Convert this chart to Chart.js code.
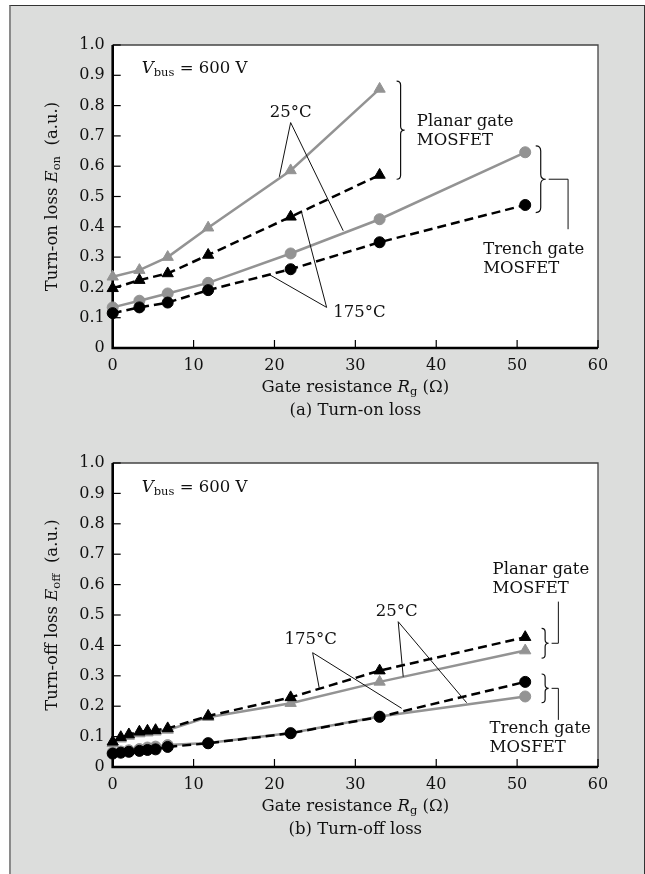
<!DOCTYPE html>
<html>
<head>
<meta charset="utf-8">
<script src="https://cdn.jsdelivr.net/npm/chart.js@4.4.1/dist/chart.umd.min.js"></script>
<style>
  html, body { margin: 0; padding: 0; background: #fff; }
  #panel {
    position: absolute; left: 9px; top: 5px; width: 636px; height: 880px;
    background: #dcdddc; box-sizing: border-box;
    border-left: 2px solid #8a8a8a; border-top: 1px solid #333; border-right: 1px solid #333;
  }
  canvas { position: absolute; left: 0; }
  #chartOn { top: 0; }
  #chartOff { top: 430px; }
</style>
</head>
<body>
<div id="panel"></div>
<canvas id="chartOn" width="645" height="430"></canvas>
<canvas id="chartOff" width="645" height="444"></canvas>
<script>
// (a) turn-on loss, gate resistance in ohm
const rgOnPlanar = [0, 3.3, 6.8, 11.8, 22, 33];
const rgOnTrench = [0, 3.3, 6.8, 11.8, 22, 33, 51];
const onPlanar25 = [0.235, 0.257, 0.300, 0.397, 0.586, 0.855];
const onPlanar175 = [0.197, 0.224, 0.246, 0.307, 0.433, 0.571];
const onTrench25 = [0.134, 0.156, 0.180, 0.215, 0.312, 0.425, 0.646];
const onTrench175 = [0.115, 0.134, 0.150, 0.191, 0.260, 0.349, 0.472];

// (b) turn-off loss
const rgOff = [0, 1, 2, 3.3, 4.3, 5.3, 6.8, 11.8, 22, 33, 51];
const offPlanar25 = [0.078, 0.093, 0.102, 0.110, 0.113, 0.116, 0.122, 0.164, 0.210, 0.280, 0.383];
const offPlanar175 = [0.083, 0.098, 0.107, 0.116, 0.119, 0.121, 0.127, 0.168, 0.229, 0.317, 0.427];
const offTrench25 = [0.048, 0.051, 0.055, 0.059, 0.064, 0.067, 0.072, 0.079, 0.112, 0.166, 0.232];
const offTrench175 = [0.044, 0.047, 0.050, 0.053, 0.056, 0.058, 0.066, 0.078, 0.111, 0.165, 0.280];

const yTickLabels = ['0', '0.1', '0.2', '0.3', '0.4', '0.5', '0.6', '0.7', '0.8', '0.9', '1.0'];
const xTickLabels = ['0', '10', '20', '30', '40', '50', '60'];

const SERIF = '"DejaVu Serif", "Liberation Serif", serif';
const GREY = '#939393';

function series(xs, ys, grey, shape) {
  return {
    data: xs.map((x, i) => ({ x: x, y: ys[i] })),
    showLine: true,
    clip: false,
    borderColor: grey ? GREY : '#000',
    backgroundColor: grey ? GREY : '#000',
    borderWidth: 2.5,
    borderDash: grey ? [] : [9, 5],
    pointStyle: shape,
    pointRadius: shape === 'triangle' ? 6.5 : 5.5,
    pointBorderWidth: 1,
  };
}

function fontFor(style) {
  if (style === 'i') return 'italic 16.5px ' + SERIF;
  if (style === 'sub') return '11.5px ' + SERIF;
  return '16.5px ' + SERIF;
}

// draws text made of pieces: plain, italic ('i') and subscript ('sub')
function richText(ctx, parts, x, y, align) {
  let w = 0;
  parts.forEach(p => { ctx.font = fontFor(p[1]); w += ctx.measureText(p[0]).width; });
  let cx = align === 'center' ? x - w / 2 : x;
  ctx.textAlign = 'left';
  ctx.textBaseline = 'middle';
  parts.forEach(p => {
    ctx.font = fontFor(p[1]);
    ctx.fillText(p[0], cx, p[1] === 'sub' ? y + 4 : y);
    cx += ctx.measureText(p[0]).width;
  });
}

function brace(ctx, x0, w, yTop, yBot) {
  const xm = x0 + w / 2, ym = (yTop + yBot) / 2, r = w / 2;
  ctx.beginPath();
  ctx.moveTo(x0, yTop);
  ctx.quadraticCurveTo(xm, yTop, xm, yTop + r);
  ctx.lineTo(xm, ym - r);
  ctx.quadraticCurveTo(xm, ym, x0 + w, ym);
  ctx.quadraticCurveTo(xm, ym, xm, ym + r);
  ctx.lineTo(xm, yBot - r);
  ctx.quadraticCurveTo(xm, yBot, x0, yBot);
  ctx.stroke();
}

const framePlugin = {
  id: 'frame',
  beforeDraw(chart) {
    const a = chart.chartArea, ctx = chart.ctx;
    ctx.save();
    ctx.fillStyle = '#fff';
    ctx.fillRect(a.left, a.top, a.right - a.left, a.bottom - a.top);
    ctx.restore();
  },
  beforeDatasetsDraw(chart) {
    const a = chart.chartArea, ctx = chart.ctx;
    const sx = chart.scales.x, sy = chart.scales.y;
    ctx.save();
    ctx.strokeStyle = '#444';
    ctx.lineWidth = 1.3;
    ctx.beginPath();
    ctx.moveTo(a.left, a.top); ctx.lineTo(a.right, a.top); ctx.lineTo(a.right, a.bottom);
    ctx.stroke();
    ctx.strokeStyle = '#000';
    ctx.lineWidth = 1.2;
    sy.ticks.forEach(t => {
      const y = sy.getPixelForValue(t.value);
      ctx.beginPath(); ctx.moveTo(a.left, y); ctx.lineTo(a.left + 8, y); ctx.stroke();
    });
    sx.ticks.forEach(t => {
      const x = sx.getPixelForValue(t.value);
      ctx.beginPath(); ctx.moveTo(x, a.bottom); ctx.lineTo(x, a.bottom - 8); ctx.stroke();
    });
    ctx.lineWidth = 2.6;
    ctx.beginPath();
    ctx.moveTo(a.left, a.top); ctx.lineTo(a.left, a.bottom); ctx.lineTo(a.right, a.bottom);
    ctx.stroke();
    ctx.restore();
  },
  afterDraw(chart) {
    const n = chart.options.plugins.frame;
    const a = chart.chartArea, ctx = chart.ctx;
    const sx = chart.scales.x, sy = chart.scales.y;
    const px = p => [sx.getPixelForValue(p[0]), sy.getPixelForValue(p[1])];
    ctx.save();
    ctx.fillStyle = '#111';
    ctx.strokeStyle = '#111';

    // axis titles and caption
    ctx.save();
    ctx.translate(52.7, (a.top + a.bottom) / 2);
    ctx.rotate(-Math.PI / 2);
    richText(ctx, n.yTitle, 0, 0, 'center');
    ctx.restore();
    const cx = (a.left + a.right) / 2;
    richText(ctx, [['Gate resistance ', ''], ['R', 'i'], ['g', 'sub'], [' (\u03a9)', '']], cx, a.bottom + 40, 'center');
    richText(ctx, [[n.caption, '']], cx, a.bottom + 63, 'center');

    // V_bus
    const v = px(n.vbus);
    richText(ctx, [['V', 'i'], ['bus', 'sub'], [' = 600 V', '']], v[0], v[1], 'left');

    // temperature callouts
    ctx.lineWidth = 1;
    n.temps.forEach(t => {
      const c = px(t.at), ap = px(t.apex);
      richText(ctx, [[t.text, '']], c[0], c[1], 'center');
      t.to.forEach(e => {
        const p = px(e);
        ctx.beginPath(); ctx.moveTo(ap[0], ap[1]); ctx.lineTo(p[0], p[1]); ctx.stroke();
      });
    });

    // braces and their leaders
    ctx.lineWidth = 1.2;
    n.braces.forEach(b => {
      const x0 = sx.getPixelForValue(b.x);
      const yT = sy.getPixelForValue(b.top), yB = sy.getPixelForValue(b.bot);
      brace(ctx, x0, b.w, yT, yB);
      if (b.leader) {
        const ym = (yT + yB) / 2;
        ctx.lineWidth = 1;
        ctx.beginPath();
        ctx.moveTo(x0 + b.w + 3, ym);
        b.leader.forEach(l => {
          const p = px([l[0], l[1] === null ? sy.getValueForPixel(ym) : l[1]]);
          ctx.lineTo(p[0], p[1]);
        });
        ctx.stroke();
        ctx.lineWidth = 1.2;
      }
    });

    // device labels
    n.labels.forEach(l => {
      const p = px(l.at);
      l.lines.forEach((s, i) => richText(ctx, [[s, '']], p[0], p[1] + i * 19, 'left'));
    });
    ctx.restore();
  }
};

function makeChart(id, datasets, plotTop, plotBottom, notes) {
  const el = document.getElementById(id);
  return new Chart(el, {
    type: 'scatter',
    data: { datasets: datasets },
    options: {
      responsive: false,
      animation: false,
      layout: { padding: { top: plotTop, left: 0, right: 47, bottom: 0 } },
      plugins: {
        legend: { display: false },
        tooltip: { enabled: false },
        frame: notes,
      },
      scales: {
        x: {
          type: 'linear', min: 0, max: 60,
          grid: { display: false, drawTicks: false },
          border: { display: false },
          ticks: {
            stepSize: 10, padding: 8, color: '#111', maxRotation: 0,
            font: { family: SERIF, size: 16 },
            callback: (v, i) => xTickLabels[i],
          },
          afterFit: s => { s.height = el.height - plotBottom; },
        },
        y: {
          type: 'linear', min: 0, max: 1,
          grid: { display: false, drawTicks: false },
          border: { display: false },
          ticks: {
            stepSize: 0.1, padding: 8, color: '#111',
            font: { family: SERIF, size: 16 },
            callback: (v, i) => yTickLabels[i],
          },
          afterFit: s => { s.width = 112.7; },
        },
      },
    },
    plugins: [framePlugin],
  });
}

makeChart('chartOn', [
  series(rgOnPlanar, onPlanar175, false, 'triangle'),
  series(rgOnTrench, onTrench175, false, 'circle'),
  series(rgOnPlanar, onPlanar25, true, 'triangle'),
  series(rgOnTrench, onTrench25, true, 'circle'),
], 45, 348, {
  yTitle: [['Turn-on loss ', ''], ['E', 'i'], ['on', 'sub'], ['  (a.u.)', '']],
  caption: '(a) Turn-on loss',
  vbus: [3.6, 0.921],
  temps: [
    { text: '25\u00b0C', at: [22.0, 0.777], apex: [22.0, 0.744], to: [[20.6, 0.565], [28.5, 0.387]] },
    { text: '175\u00b0C', at: [30.5, 0.115], apex: [26.45, 0.134], to: [[19.45, 0.241], [23.36, 0.447]] },
  ],
  braces: [
    { x: 35.1, w: 8, top: 0.881, bot: 0.557, leader: null },
    { x: 52.3, w: 10, top: 0.667, bot: 0.447, leader: [[56.3, null], [56.3, 0.392]] },
  ],
  labels: [
    { at: [37.6, 0.747], lines: ['Planar gate', 'MOSFET'] },
    { at: [45.8, 0.323], lines: ['Trench gate', 'MOSFET'] },
  ],
});

makeChart('chartOff', [
  series(rgOff, offPlanar175, false, 'triangle'),
  series(rgOff, offTrench175, false, 'circle'),
  series(rgOff, offPlanar25, true, 'triangle'),
  series(rgOff, offTrench25, true, 'circle'),
], 33, 337, {
  yTitle: [['Turn-off loss ', ''], ['E', 'i'], ['off', 'sub'], ['  (a.u.)', '']],
  caption: '(b) Turn-off loss',
  vbus: [3.6, 0.918],
  temps: [
    { text: '175\u00b0C', at: [24.47, 0.418], apex: [24.72, 0.376], to: [[25.54, 0.259], [35.72, 0.193]] },
    { text: '25\u00b0C', at: [35.1, 0.511], apex: [35.3, 0.478], to: [[35.92, 0.297], [43.76, 0.2115]] },
  ],
  braces: [
    { x: 53.03, w: 7, top: 0.456, bot: 0.358, leader: [[55.1, null], [55.1, 0.544]] },
    { x: 53.03, w: 7, top: 0.306, bot: 0.2115, leader: [[55.1, null], [55.1, 0.155]] },
  ],
  labels: [
    { at: [46.97, 0.648], lines: ['Planar gate', 'MOSFET'] },
    { at: [46.6, 0.127], lines: ['Trench gate', 'MOSFET'] },
  ],
});
</script>
</body>
</html>
